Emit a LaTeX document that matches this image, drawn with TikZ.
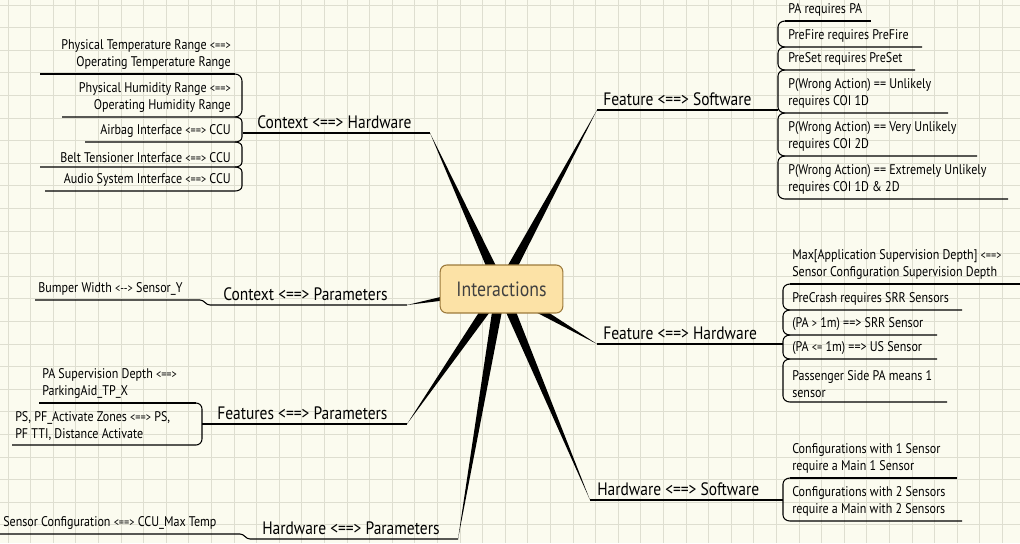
\documentclass[tikz,border=0pt]{standalone}
\usepackage{fontspec}
\setmainfont{PT Sans}[FakeStretch=0.86]
\usetikzlibrary{calc}
\definecolor{bg}{HTML}{FBFBEF}
\definecolor{gridc}{HTML}{DEDED0}
\definecolor{boxfill}{HTML}{FCE2A6}
\definecolor{boxdraw}{HTML}{9C7A3C}
\tikzset{
  leafR/.style={anchor=south west,inner sep=0pt,align=left,font=\fontsize{10.5}{12.8}\selectfont},
  leafL/.style={anchor=south east,inner sep=0pt,align=right,font=\fontsize{10.5}{12.8}\selectfont},
  branch/.style={anchor=south west,inner sep=0pt,font=\fontsize{13.5}{15}\selectfont},
  uline/.style={line width=0.8pt,black},
  spike/.style={fill=black},
}
\newcommand{\spk}[1]{\fill[spike] ($(C)!4pt!90:(#1)$) -- (#1) -- ($(C)!4pt!-90:(#1)$) -- cycle;}
\begin{document}
\begin{tikzpicture}[x=0.75pt,y=-0.75pt]
\useasboundingbox (0,0) rectangle (1020,543);
\fill[bg] (0,0) rectangle (1020,543);
\foreach \i in {0,...,45} \draw[gridc,line width=0.5pt] (\i*22.6+8,0) -- (\i*22.6+8,543);
\foreach \i in {0,...,24} \draw[gridc,line width=0.5pt] (0,\i*22.6+5) -- (1020,\i*22.6+5);

\coordinate (C) at (501,288);
% branch tips
\coordinate (t1) at (430,133);
\coordinate (t2) at (597,110);
\coordinate (t3) at (407,305);
\coordinate (t4) at (597,344);
\coordinate (t5) at (407,424);
\coordinate (t6) at (590,500);
\coordinate (t7) at (458,539);
\foreach \t in {t1,t2,t3,t4,t5,t6,t7} {\spk{\t}}

% center
\node[draw=boxdraw,line width=0.8pt,fill=boxfill,rounded corners=5pt,minimum width=92pt,minimum height=36pt,font=\fontsize{15.5}{17}\selectfont,text=black!75] (center) at (501.5,289) {Interactions};

% ---- Context <==> Hardware
\draw[uline] (t1) -- (243,133);
\node[branch] (b1) at (257,129) {Context <==> Hardware};
\draw[uline] (235,74) -- (40,74);
\draw[uline] (235,74) to[out=0,in=90] (242,81) -- (242,110) to[out=-90,in=0] (235,117) -- (62,117);
\draw[uline] (235,117) to[out=0,in=90] (242,122) -- (242,137) to[out=-90,in=0] (235,142) -- (85,142);
\draw[uline] (235,142) to[out=0,in=90] (242,147) -- (242,162) to[out=-90,in=0] (235,167) -- (40,167);
\draw[uline] (235,167) to[out=0,in=90] (242,172) -- (242,186) to[out=-90,in=0] (235,191) -- (45,191);
\node[leafL] (l11) at (231,70) {Physical Temperature Range {\small<==>}\\Operating Temperature Range};
\node[leafL] (l12) at (231,113) {Physical Humidity Range {\small<==>}\\Operating Humidity Range};
\node[leafL] (l13) at (231,138) {Airbag Interface {\small<==>} CCU};
\node[leafL] (l14) at (231,163) {Belt Tensioner Interface {\small<==>} CCU};
\node[leafL] (l15) at (231,187) {Audio System Interface {\small<==>} CCU};

% ---- Feature <==> Software
\draw[uline] (t2) -- (778,110);
\node[branch] (b2) at (603,106) {Feature <==> Software};
\draw[uline] (785,21) -- (871,21);
\draw[uline] (785,21) to[out=180,in=90] (778,27) -- (778,41) to[out=-90,in=180] (785,47) -- (922,47);
\draw[uline] (785,47) to[out=180,in=90] (778,53) -- (778,64) to[out=-90,in=180] (785,70) -- (915,70);
\draw[uline] (785,70) to[out=180,in=90] (778,76) -- (778,107) to[out=-90,in=180] (785,113) -- (948,113);
\draw[uline] (785,113) to[out=180,in=90] (778,119) -- (778,150) to[out=-90,in=180] (785,156) -- (977,156);
\draw[uline] (785,156) to[out=180,in=90] (778,162) -- (778,193) to[out=-90,in=180] (785,199) -- (1008,199);
\node[leafR] (l21) at (788,17) {PA requires PA};
\node[leafR] (l22) at (788,43) {PreFire requires PreFire};
\node[leafR] (l23) at (788,66) {PreSet requires PreSet};
\node[leafR] (l24) at (788,109) {P(Wrong Action) == Unlikely\\requires COI 1D};
\node[leafR] (l25) at (788,152) {P(Wrong Action) == Very Unlikely\\requires COI 2D};
\node[leafR] (l26) at (788,195) {P(Wrong Action) == Extremely Unlikely\\requires COI 1D \& 2D};

% ---- Context <==> Parameters
\draw[uline] (t3) -- (210,305) to[out=180,in=0] (200,300) -- (35,300);
\node[branch] (b3) at (223,301) {Context <==> Parameters};
\node[leafR] (l31) at (38,296) {Bumper Width {\small<-{}->} Sensor\_Y};

% ---- Feature <==> Hardware
\draw[uline] (t4) -- (783,344);
\node[branch] (b4) at (603,340) {Feature <==> Hardware};
\draw[uline] (790,284) -- (1020,284);
\draw[uline] (790,284) to[out=180,in=90] (783,290) -- (783,304) to[out=-90,in=180] (790,310) -- (962,310);
\draw[uline] (790,310) to[out=180,in=90] (783,316) -- (783,329) to[out=-90,in=180] (790,335) -- (937,335);
\draw[uline] (790,335) to[out=180,in=90] (783,341) -- (783,353) to[out=-90,in=180] (790,359) -- (937,359);
\draw[uline] (790,359) to[out=180,in=90] (783,365) -- (783,396) to[out=-90,in=180] (790,402) -- (947,402);
\node[leafR] (l41) at (792,280) {Max[Application Supervision Depth] {\small<==>}\\Sensor Configuration Supervision Depth};
\node[leafR] (l42) at (792,306) {PreCrash requires SRR Sensors};
\node[leafR] (l43) at (792,331) {(PA {\small>} 1m) ==> SRR Sensor};
\node[leafR] (l44) at (792,355) {(PA {\small<=} 1m) ==> US Sensor};
\node[leafR] (l45) at (792,398) {Passenger Side PA means 1\\sensor};

% ---- Features <==> Parameters
\draw[uline] (t5) -- (202,424);
\node[branch] (b5) at (217,420) {Features <==> Parameters};
\draw[uline] (196,403) -- (39,403);
\draw[uline] (196,403) to[out=0,in=90] (202,409) -- (202,439) to[out=-90,in=0] (196,445) -- (12,445);
\node[leafR] (l51) at (42,399) {PA Supervision Depth {\small<==>}\\ParkingAid\_TP\_X};
\node[leafR] (l52) at (15,441) {PS, PF\_Activate Zones {\small<==>} PS,\\PF TTI, Distance Activate};

% ---- Hardware <==> Software
\draw[uline] (t6) -- (783,500);
\node[branch] (b6) at (597,496) {Hardware <==> Software};
\draw[uline] (790,478) -- (957,478);
\draw[uline] (790,478) to[out=180,in=90] (783,484) -- (783,515) to[out=-90,in=180] (790,521) -- (962,521);
\node[leafR] (l61) at (792,474) {Configurations with 1 Sensor\\require a Main 1 Sensor};
\node[leafR] (l62) at (792,517) {Configurations with 2 Sensors\\require a Main with 2 Sensors};

% ---- Hardware <==> Parameters
\draw[uline] (t7) -- (250,539) to[out=180,in=0] (240,534) -- (0,534);
\node[branch] (b7) at (262,535) {Hardware <==> Parameters};
\node[leafR] (l71) at (3,530) {Sensor Configuration {\small<==>} CCU\_Max Temp};
\end{tikzpicture}
\end{document}
